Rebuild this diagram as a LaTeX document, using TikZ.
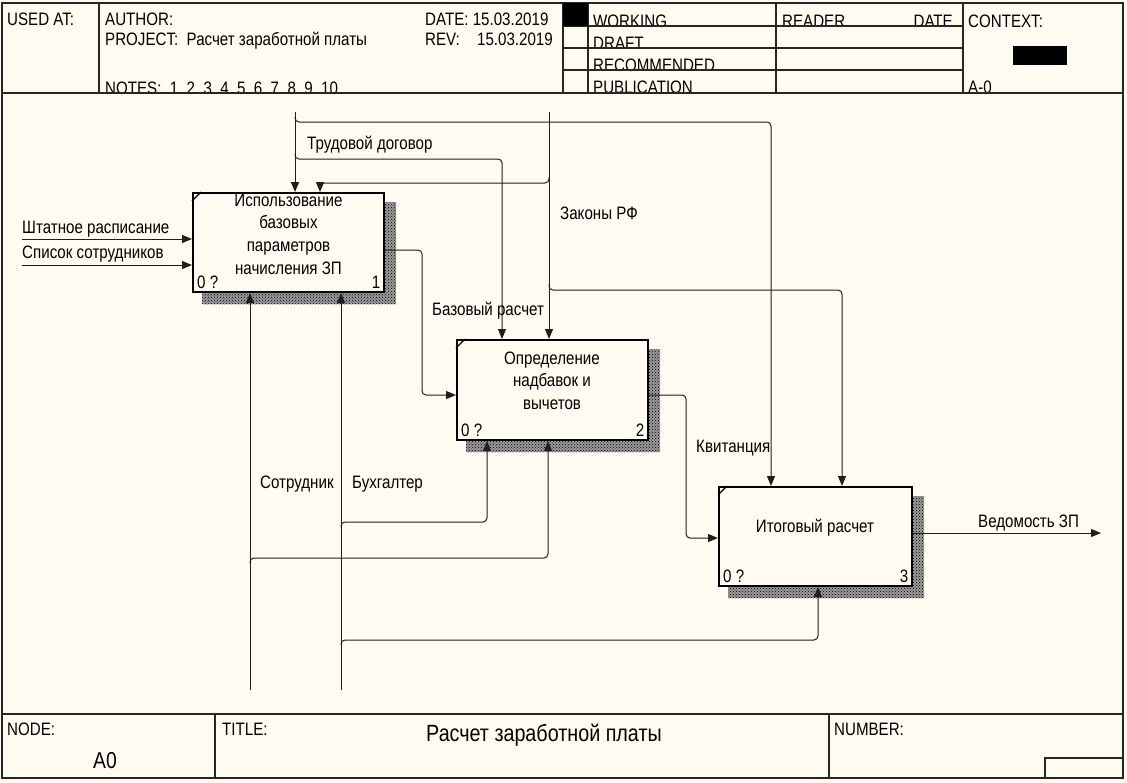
\documentclass[tikz,border=0pt]{standalone}
\usepackage{fontspec}
\setmainfont{Liberation Sans}[FakeStretch=0.84]
\usepackage{tikz}
\usetikzlibrary{arrows.meta,patterns,calc}
\pgfdeclarelayer{ft}
\pgfdeclarelayer{bg}
\pgfsetlayers{bg,main,ft}
\definecolor{paper}{RGB}{255,251,240}
\definecolor{ink}{RGB}{30,30,30}
\tikzstyle{arrow} = [ink,line width=1pt,rounded corners=4pt,-{Triangle[length=10pt,width=8pt]}]
\tikzstyle{frame} = [black!85,line width=1.5pt]
\tikzstyle{func} = [draw=black,line width=2pt,fill=paper,minimum width=191pt,minimum height=99pt,inner sep=0pt]
\tikzstyle{txt} = [inner sep=0pt,anchor=base west]
\tikzstyle{boxtxt} = [inner sep=0pt,align=center]

\begin{document}
\begin{tikzpicture}[x=1pt,y=-1pt,font=\fontsize{18}{22.7}\selectfont]
          \useasboundingbox (0,0) rectangle (1127,782);
          % functions
          \node[func] (b1) at (288.5,242.5) {};
          \node[func,minimum height=100pt] (b2) at (552.5,390) {};
          \node[func,minimum width=193pt] (b3) at (815.5,536.5) {};
          \node[boxtxt] (b1t) at (288.5,234) {Использование\\базовых\\параметров\\начисления ЗП};
          \node[boxtxt] (b2t) at (552,380.5) {Определение\\надбавок и\\вычетов};
          \node[boxtxt] (b3t) at (815,528) {Итоговый расчет};
          \foreach \b/\n in {b1/1,b2/2,b3/3} {
            \draw[line width=1.3pt] ($(\b.north west)+(0,9)$) -- ($(\b.north west)+(9,0)$);
            \node[txt] (\b z) at ($(\b.south west)+(5,-4.5)$) {0 ?};
            \node[txt,anchor=base east] (\b n) at ($(\b.south east)+(-4.5,-4.5)$) {\n};
          }
          % inputs
          \coordinate (in1) at (22,239);
          \coordinate (in2) at (22,265);
          \draw[arrow] (in1) -- (in1 -| b1.west);
          \draw[arrow] (in2) -- (in2 -| b1.west);
          \node[txt] (l1) at (22,233) {Штатное расписание};
          \node[txt] (l2) at (22,258) {Список сотрудников};
          % controls
          \coordinate (td) at (295,112);
          \coordinate (td2) at (771,122);
          \coordinate (td3) at (502,159);
          \draw[arrow] (td) -- (td |- b1.north);
          \draw[arrow] ($(td)+(0,5)$) |- (td2) -- (td2 |- b3.north);
          \draw[arrow] ($(td)+(0,42)$) |- (td3) -- (td3 |- b2.north);
          \node[txt] (l3) at (307,149) {Трудовой договор};
          \coordinate (zk) at (549,112);
          \coordinate (zk1) at (320,183);
          \coordinate (zk2) at (842,290);
          \draw[arrow] (zk) -- (zk |- b2.north);
          \draw[arrow] ($(zk)+(0,65)$) |- (zk1) -- (zk1 |- b1.north);
          \draw[arrow] ($(zk)+(0,172)$) |- (zk2) -- (zk2 |- b3.north);
          \node[txt] (l4) at (560,219) {Законы РФ};
          % outputs
          \draw[arrow] ([yshift=-7.5pt]b1.east) -- ++(37,0) |- ([yshift=-5pt]b2.west);
          \node[txt] (l5) at (432,315) {Базовый расчет};
          \draw[arrow] ([yshift=-5pt]b2.east) -- ++(37,0) |- ([yshift=-1.5pt]b3.west);
          \node[txt] (l6) at (696,452) {Квитанция};
          \coordinate (out) at (1101,533);
          \draw[arrow] ([yshift=3.5pt]b3.east) -- (out);
          \node[txt] (l7) at (978,527) {Ведомость ЗП};
          % mechanisms
          \coordinate (st) at (250,690);
          \coordinate (st1) at (548,558);
          \coordinate (bh) at (341,690);
          \coordinate (bh1) at (487,522);
          \coordinate (bh2) at (818,640);
          \draw[arrow] (st) -- (st |- b1.south);
          \draw[arrow] ($(st)+(0,-127)$) |- (st1) -- (st1 |- b2.south);
          \draw[arrow] (bh) -- (bh |- b1.south);
          \draw[arrow] ($(bh)+(0,-163)$) |- (bh1) -- (bh1 |- b2.south);
          \draw[arrow] ($(bh)+(0,-45)$) |- (bh2) -- (bh2 |- b3.south);
          \node[txt] (l8) at (260,488) {Сотрудник};
          \node[txt] (l9) at (352,488) {Бухгалтер};
          % header
          \node[txt] (usedat) at (7,25) {USED AT:};
          \node[txt] (author) at (105,25) {AUTHOR:};
          \node[txt] (project) at (105,45) {PROJECT:\ \ Расчет заработной платы};
          \node[txt] (date) at (425,25) {DATE: 15.03.2019};
          \node[txt] (rev) at (425,45) {REV:};
          \node[txt,anchor=base east] (revdate) at (553,45) {15.03.2019};
          \node[txt] (notes) at (105,94) {NOTES:\ \ 1\ \ 2\ \ 3\ \ 4\ \ 5\ \ 6\ \ 7\ \ 8\ \ 9\ \ 10};
          \node[txt] (working) at (593,27) {WORKING};
          \node[txt] (draft) at (593,49) {DRAFT};
          \node[txt] (recom) at (593,71) {RECOMMENDED};
          \node[txt] (public) at (593,93) {PUBLICATION};
          \node[txt] (reader) at (782,27) {READER};
          \node[txt,anchor=base east] (rdate) at (953,27) {DATE};
          \node[txt] (context) at (968,27) {CONTEXT:};
          \node[txt] (aminus) at (968,93) {A-0};
          % footer
          \node[txt] (nodelbl) at (7,735) {NODE:};
          \node[txt,font=\fontsize{23}{26}\selectfont] (nodeno) at (93,768) {A0};
          \node[txt] (titlelbl) at (222,735) {TITLE:};
          \node[txt,anchor=base,font=\fontsize{23.5}{26}\selectfont] (title) at (544,741) {Расчет заработной платы};
          \node[txt] (numberlbl) at (834,735) {NUMBER:};
          \begin{pgfonlayer}{bg}
            \fill[paper] (0,0) rectangle (1127,782);
            \foreach \b in {b1,b2,b3}
              \fill[preaction={fill=black!40},pattern=crosshatch dots,pattern color=black] ($(\b.north west)+(10,10)$) rectangle ($(\b.south east)+(11,11)$);
          \end{pgfonlayer}
          \begin{pgfonlayer}{ft}
            \draw[frame] (2,3) rectangle (1123,778);
            \draw[frame] (2,93) -- (1123,93);
            \draw[frame] (2,714) -- (1123,714);
            \foreach \x in {99,563,588,776,963}
              \draw[frame] (\x,3) -- (\x,93);
            \foreach \y in {26,48,70}
              \draw[frame] (563,\y) -- (963,\y);
            \fill (563,3) rectangle (588,26);
            \fill (1013,46) rectangle (1067,65);
            \draw[frame] (215,714) -- (215,778);
            \draw[frame] (829,714) -- (829,778);
            \draw[frame] (1045,778) |- (1123,758);
          \end{pgfonlayer}
      \end{tikzpicture}
\end{document}
